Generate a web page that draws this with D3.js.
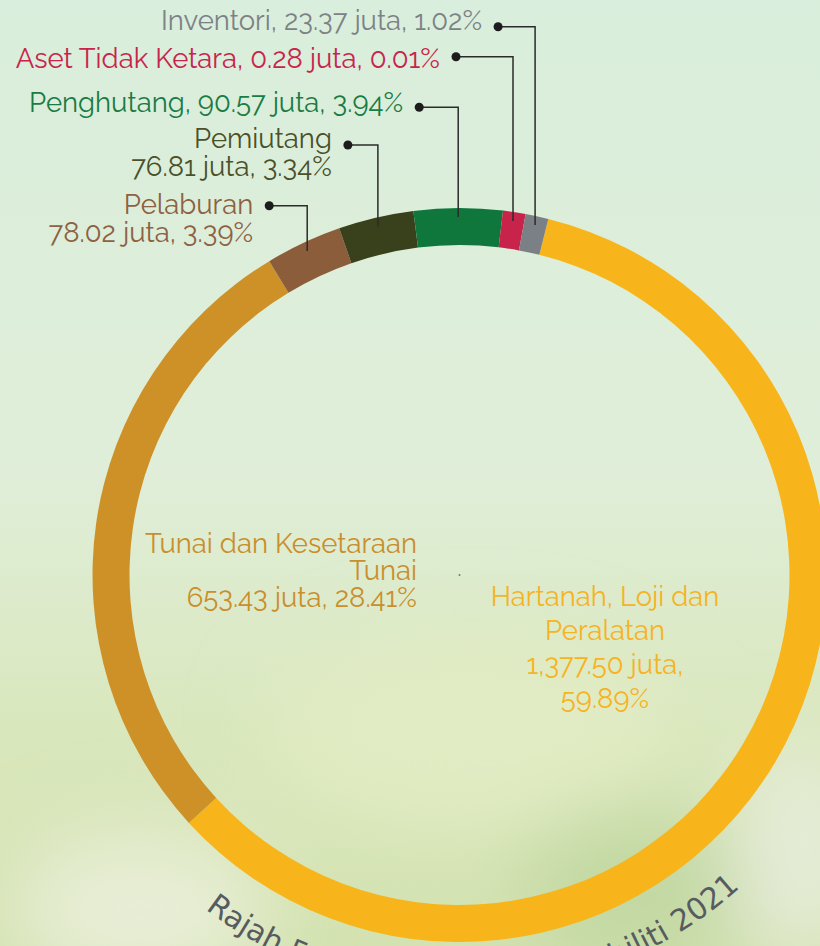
<!DOCTYPE html>
<html>
<head>
<meta charset="utf-8">
<script src="https://cdn.jsdelivr.net/npm/d3@7"></script>
<style>
  html, body { margin: 0; padding: 0; }
  svg { display: block; }
</style>
</head>
<body>
<svg id="chart" width="820" height="946"></svg>
<script>
// data
var categories = ["Hartanah, Loji dan Peralatan", "Tunai dan Kesetaraan Tunai", "Pelaburan",
    "Pemiutang", "Penghutang", "Aset Tidak Ketara", "Inventori"];
var values = [1377.50, 653.43, 78.02, 76.81, 90.57, 0.28, 23.37];   // juta
var percents = [59.89, 28.41, 3.39, 3.34, 3.94, 0.01, 1.02];
var sliceColors = ["#f7b51b", "#cd9128", "#8b5d3b", "#39401c", "#0f773c", "#c8234a", "#7b7f86"];
var textColors = ["#f6b323", "#c98f2c", "#8d6141", "#4a5129", "#1a7b43", "#c8244b", "#7d8186"];
var captionText = "Rajah 5: Jumlah Aset dan Liabiliti 2021";

var width = 820, height = 946;
var cx = 459.5, cy = 575;
var rOuter = 367, rInner = 330;
var minShare = 0.01;   // tiny slices drawn at least this share so they stay visible
var startDeg = 14;

var svg = d3.select("#chart");
var defs = svg.append("defs");

// Background
var bg = defs.append("linearGradient").attr("id", "bg").attr("x1", 0).attr("y1", 0).attr("x2", 0).attr("y2", 1);
bg.append("stop").attr("offset", "0%").attr("stop-color", "#d9eedc");
bg.append("stop").attr("offset", "50%").attr("stop-color", "#e0eed9");
bg.append("stop").attr("offset", "78%").attr("stop-color", "#d9e7bc");
bg.append("stop").attr("offset", "100%").attr("stop-color", "#d3e2b0");
defs.append("filter").attr("id", "soft").attr("x", "-50%").attr("y", "-50%").attr("width", "200%").attr("height", "200%")
    .append("feGaussianBlur").attr("stdDeviation", 40);

svg.append("rect").attr("width", width).attr("height", height).attr("fill", "url(#bg)");
var blobs = svg.append("g").attr("filter", "url(#soft)");
blobs.append("ellipse").attr("cx", 140).attr("cy", 910).attr("rx", 130).attr("ry", 80).attr("fill", "#e8eed6");
blobs.append("ellipse").attr("cx", 470).attr("cy", 730).attr("rx", 200).attr("ry", 90).attr("fill", "#e2ecc4");
blobs.append("ellipse").attr("cx", 640).attr("cy", 890).attr("rx", 120).attr("ry", 80).attr("fill", "#c2d8a2");
blobs.append("ellipse").attr("cx", 800).attr("cy", 850).attr("rx", 70).attr("ry", 110).attr("fill", "#e6ecd8");

// Pie
var total = d3.sum(values);
var pie = d3.pie()
    .sort(null)
    .value(function(d) { return Math.max(d, total * minShare); })
    .startAngle(startDeg * Math.PI / 180)
    .endAngle(startDeg * Math.PI / 180 + 2 * Math.PI);
var arcs = pie(values);
var arc = d3.arc().innerRadius(rInner).outerRadius(rOuter);
var leaderArc = d3.arc().innerRadius(358).outerRadius(358);

var g = svg.append("g").attr("transform", "translate(" + cx + "," + cy + ")");

// Curved caption (mostly below the frame)
defs.append("path").attr("id", "capPath")
    .attr("d", "M" + (cx - 420) + "," + cy + " A420,420 0 0 0 " + (cx + 420) + "," + cy);
svg.append("text")
    .attr("font-family", "'DejaVu Sans', Verdana, sans-serif")
    .attr("font-size", 30)
    .attr("fill", "#575b60")
    .append("textPath")
    .attr("href", "#capPath")
    .attr("startOffset", "51.3%")
    .attr("text-anchor", "middle")
    .text(captionText);

g.selectAll("path.slice")
    .data(arcs)
    .enter()
    .append("path")
    .attr("class", "slice")
    .attr("d", arc)
    .attr("fill", function(d, i) { return sliceColors[i]; });

g.append("circle").attr("r", 1).attr("fill", "#777");

var fmtVal = d3.format(",.2f");
var fmtPct = d3.format(".2f");
function valueText(i) {
    return fmtVal(values[i]) + " juta, " + fmtPct(percents[i]) + "%";
}

// Outside labels with leaders: positions only
var outerLayout = [
    { i: 6, lineY: 26.7, textY: 30, hook: 37, twoLine: false },
    { i: 5, lineY: 56.7, textY: 68, hook: 57, twoLine: false },
    { i: 4, lineY: 107.3, textY: 112, hook: 39, twoLine: false },
    { i: 3, lineY: 145, textY: 148, hook: 30, twoLine: true },
    { i: 2, lineY: 205.7, textY: 214, hook: 38, twoLine: true }
];
var labelFont = "Raleway, Lato, 'Open Sans', sans-serif";
var labelSize = 27.5;

outerLayout.forEach(function(l) {
    var c = leaderArc.centroid(arcs[l.i]);
    var x = cx + c[0], y = cy + c[1];
    var dotX = x - l.hook;
    svg.append("path")
        .attr("d", "M" + x + "," + y + " L" + x + "," + l.lineY + " L" + dotX + "," + l.lineY)
        .attr("fill", "none")
        .attr("stroke", "#2b2b2b")
        .attr("stroke-width", 1.5);
    svg.append("circle")
        .attr("cx", dotX).attr("cy", l.lineY).attr("r", 4.5)
        .attr("fill", "#1c1c1c");
    var lines = l.twoLine ? [categories[l.i], valueText(l.i)]
                          : [categories[l.i] + ", " + valueText(l.i)];
    var t = svg.append("text")
        .attr("font-family", labelFont)
        .attr("font-weight", 400)
        .attr("font-size", labelSize)
        .attr("fill", textColors[l.i])
        .attr("text-anchor", "end");
    lines.forEach(function(s, k) {
        t.append("tspan").attr("x", dotX - 16).attr("y", l.textY + k * 28).text(s);
    });
});

// Labels inside the ring
var tunai = svg.append("text")
    .attr("font-family", labelFont)
    .attr("font-weight", 400)
    .attr("font-size", labelSize)
    .attr("fill", textColors[1])
    .attr("text-anchor", "end");
["Tunai dan Kesetaraan", "Tunai", valueText(1)].forEach(function(s, k) {
    tunai.append("tspan").attr("x", 417).attr("y", 553 + k * 27).text(s);
});

var hartanah = svg.append("text")
    .attr("font-family", labelFont)
    .attr("font-weight", 400)
    .attr("font-size", labelSize)
    .attr("fill", textColors[0])
    .attr("text-anchor", "middle");
["Hartanah, Loji dan", "Peralatan", fmtVal(values[0]) + " juta,", fmtPct(percents[0]) + "%"].forEach(function(s, k) {
    hartanah.append("tspan").attr("x", 605).attr("y", 606 + k * 34).text(s);
});
</script>
</body>
</html>
